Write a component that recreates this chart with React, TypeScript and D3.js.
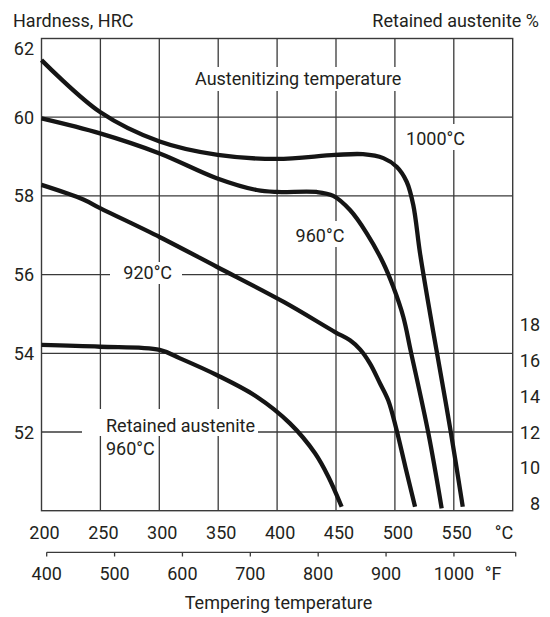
import React from "react";
import * as d3 from "d3";

// Tempering temperature (°C) and hardness (HRC) / retained austenite (%)
const c1000 = [200, 249.7, 300.3, 349.6, 399.7, 449.2, 472.9, 490.2, 501.5, 510, 515.6, 521.3, 529.8, 535.8, 547.6, 557.6];
const h1000 = [61.45, 60.13, 59.38, 59.04, 58.94, 59.04, 59.06, 58.96, 58.74, 58.36, 57.77, 56.55, 55.02, 54.0, 51.97, 50.1];

const c960 = [200, 249.7, 300.3, 348.7, 382.7, 399.7, 433.6, 447.7, 461.9, 476.1, 490.2, 498.6, 507.1, 513.5, 528.4, 539.7];
const h960 = [59.97, 59.59, 59.08, 58.45, 58.15, 58.1, 58.1, 58.0, 57.64, 57.05, 56.29, 55.69, 54.93, 54.05, 51.97, 50.06];

const c920 = [200, 235.5, 249.7, 300.6, 348.7, 406, 449.2, 461.9, 470.4, 478.9, 487.3, 494.4, 501, 509, 517.1];
const h920 = [58.28, 57.91, 57.69, 56.95, 56.2, 55.3, 54.54, 54.33, 54.1, 53.74, 53.24, 52.8, 52.1, 51.1, 50.1];

const cRA = [200, 249.7, 300.3, 317.6, 348.7, 382.7, 410.9, 432.2, 443.5, 454.8];
const ra960 = [17.26, 17.16, 16.98, 16.51, 15.58, 14.37, 12.88, 11.21, 9.9, 8.22];

const cTicks = [200, 250, 300, 350, 400, 450, 500, 550];
const fTicks = [400, 500, 600, 700, 800, 900, 1000];
const hrcTicks = [52, 54, 56, 58, 60, 62];
const raTicks = [8, 10, 12, 14, 16, 18];

const FONT = "Roboto, 'Open Sans', sans-serif";
const FS = 18;
const TXT = "#231f20";
const LINE = "#151515";
const GRID = "#3a3a3a";

export default function App() {
  const xC = d3.scaleLinear().domain([200, 600]).range([41.5, 512.7]);
  const yH = d3.scaleLinear().domain([50, 62]).range([510.7, 38.5]);
  const yRA = d3.scaleLinear().domain([8, 18]).range([510.7, 331.7]);
  const xF = d3.scaleLinear().domain([400, 1091]).range([46.7, 515.7]);

  const lineH = d3
    .line<[number, number]>()
    .x((d) => xC(d[0]))
    .y((d) => yH(d[1]))
    .curve(d3.curveCatmullRom.alpha(0.5));
  const lineRA = d3
    .line<[number, number]>()
    .x((d) => xC(d[0]))
    .y((d) => yRA(d[1]))
    .curve(d3.curveCatmullRom.alpha(0.5));

  const zip = (a: number[], b: number[]) => a.map((v, i) => [v, b[i]] as [number, number]);

  const [x0, x1] = xC.range();
  const [yb, yt] = yH.range();

  const label = (
    text: string,
    x: number,
    y: number,
    anchor: "start" | "middle" | "end" = "start"
  ) => (
    <text x={x} y={y} textAnchor={anchor} fontFamily={FONT} fontSize={FS} fill={TXT}>
      {text}
    </text>
  );

  return (
    <svg
      width={550}
      height={617}
      style={{ position: "absolute", left: 0, top: 0, background: "#fff" }}
    >
      <rect x={0} y={0} width={550} height={617} fill="#fff" />
      {/* grid */}
      {cTicks.slice(1).map((c) => (
        <line key={"v" + c} x1={xC(c)} x2={xC(c)} y1={yt} y2={yb} stroke={GRID} strokeWidth={1.3} />
      ))}
      {hrcTicks.slice(0, -1).map((h) => (
        <line key={"h" + h} x1={x0} x2={x1} y1={yH(h)} y2={yH(h)} stroke={GRID} strokeWidth={1.3} />
      ))}
      <rect x={x0} y={yt} width={x1 - x0} height={yb - yt} fill="none" stroke={GRID} strokeWidth={1.4} />

      {/* label backgrounds */}
      <rect x={192} y={67} width={214} height={24} fill="#fff" />
      <rect x={402} y={124} width={68} height={26} fill="#fff" />
      <rect x={292} y={221} width={56} height={26} fill="#fff" />
      <rect x={110} y={262} width={72} height={22} fill="#fff" />
      <rect x={82} y={409} width={176} height={27} fill="#fff" />
      <rect x={104} y={436} width={54} height={24} fill="#fff" />

      {/* curves */}
      <path d={lineH(zip(c1000, h1000)) || ""} fill="none" stroke={LINE} strokeWidth={4.3} />
      <path d={lineH(zip(c960, h960)) || ""} fill="none" stroke={LINE} strokeWidth={4.3} />
      <path d={lineH(zip(c920, h920)) || ""} fill="none" stroke={LINE} strokeWidth={4.3} />
      <path d={lineRA(zip(cRA, ra960)) || ""} fill="none" stroke={LINE} strokeWidth={4.3} />

      {/* in-plot labels */}
      {label("Austenitizing temperature", 195, 85)}
      {label("1000°C", 435.5, 145, "middle")}
      {label("960°C", 320, 241.5, "middle")}
      {label("920°C", 147.7, 279, "middle")}
      {label("Retained austenite", 106, 431.5)}
      {label("960°C", 106, 455)}

      {/* titles */}
      {label("Hardness, HRC", 13, 26.5)}
      {label("Retained austenite %", 539, 26.5, "end")}

      {/* left axis labels */}
      {hrcTicks.map((h) => (
        <text
          key={"lh" + h}
          x={34}
          y={(h === 62 ? 48 : yH(h)) + 6.5}
          textAnchor="end"
          fontFamily={FONT}
          fontSize={FS}
          fill={TXT}
        >
          {h}
        </text>
      ))}

      {/* right axis labels */}
      {raTicks.map((r) => (
        <text
          key={"ra" + r}
          x={540}
          y={yRA(r) - 7 + 6.5}
          textAnchor="end"
          fontFamily={FONT}
          fontSize={FS}
          fill={TXT}
        >
          {r}
        </text>
      ))}

      {/* °C axis labels */}
      {cTicks.map((c) => (
        <text
          key={"c" + c}
          x={xC(c) + 3}
          y={539}
          textAnchor="middle"
          fontFamily={FONT}
          fontSize={FS}
          fill={TXT}
        >
          {c}
        </text>
      ))}
      {label("°C", 504, 539, "middle")}

      {/* °F axis */}
      <line x1={xF(400)} x2={xF(1091)} y1={552.3} y2={552.3} stroke={GRID} strokeWidth={1.3} />
      {[...fTicks, 1091].map((f) => (
        <line key={"ft" + f} x1={xF(f)} x2={xF(f)} y1={552.3} y2={556.5} stroke={GRID} strokeWidth={1.3} />
      ))}
      {fTicks.map((f) => (
        <text
          key={"f" + f}
          x={xF(f)}
          y={579.5}
          textAnchor="middle"
          fontFamily={FONT}
          fontSize={FS}
          fill={TXT}
        >
          {f}
        </text>
      ))}
      {label("°F", 493, 579.5, "middle")}

      {label("Tempering temperature", 278.5, 608.5, "middle")}
    </svg>
  );
}
